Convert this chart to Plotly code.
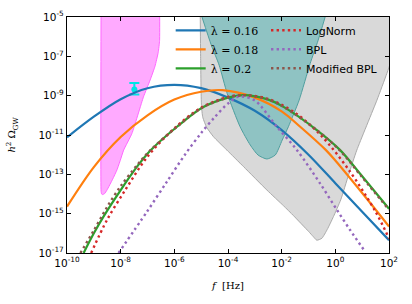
import numpy as np
import plotly.graph_objects as go

# ---- data (log10 f, log10 h^2 Omega) ----
blue_lf = [-10.0, -9.0, -8.0, -7.0, -6.0, -5.0, -4.0, -3.0, -2.0, -1.0, 0.0, 1.0, 2.0]
blue_lo = [-11.12, -10.07, -9.18, -8.62, -8.45, -8.62, -9.1, -9.77, -10.75, -12.0, -13.45, -14.9, -16.35]

orange_lf = [-10.0, -9.0, -8.0, -7.0, -6.0, -5.0, -4.2, -3.0, -2.0, -1.31, -0.35, 0.0, 1.0, 2.0]
orange_lo = [-14.64, -12.63, -11.1, -10.0, -9.2, -8.8, -8.72, -9.1, -9.8, -10.58, -11.77, -12.3, -13.95, -15.65]

green_lf = [-9.38, -9.0, -8.64, -8.0, -7.39, -6.9, -5.9, -4.95, -4.0, -3.42, -2.5, -1.93, -0.69, 0.18, 1.0, 2.0]
green_lo = [-17.0, -16.0, -15.15, -13.8, -12.61, -11.8, -10.58, -9.6, -9.1, -8.97, -9.2, -9.57, -10.75, -11.77, -13.1, -14.75]

lognorm_lf = [-9.1, -8.51, -7.83, -7.0, -6.0, -5.0, -4.0, -3.4, -2.5, -1.5, -0.5, 0.5, 1.5, 2.0]
lognorm_lo = [-17.0, -15.32, -13.8, -12.1, -10.66, -9.61, -9.06, -8.97, -9.17, -9.87, -11.07, -12.77, -14.9, -16.26]

bpl_lf = [-8.08, -7.02, -6.28, -5.59, -5.0, -4.5, -4.0, -3.6, -3.0, -2.18, -1.43, -0.57, 0.06, 0.55, 1.11]
bpl_lo = [-17.0, -14.9, -13.38, -11.97, -10.9, -10.1, -9.4, -9.05, -9.25, -10.58, -11.77, -13.46, -14.81, -15.83, -16.93]

mbpl_lf = [-9.5, -9.0, -8.5, -8.0, -7.4, -6.9, -5.9, -4.95, -4.0, -3.42, -2.5, -1.93, -0.69, 0.18, 1.0, 2.0]
mbpl_lo = [-17.0, -15.85, -14.65, -13.6, -12.55, -11.78, -10.58, -9.6, -9.1, -8.97, -9.2, -9.57, -10.75, -11.8, -13.15, -14.8]

# sensitivity regions
pink_lf = [-8.73, -8.73, -8.71, -8.67, -8.6, -8.51, -8.3, -8.14, -8.01, -7.89, -7.58, -7.15, -6.9, -6.72, -6.6, -6.55, -6.55]
pink_lo = [-4.0, -13.85, -14.0, -14.03, -13.98, -13.8, -13.25, -12.78, -12.27, -11.77, -10.92, -9.06, -8.2, -7.5, -6.8, -6.2, -4.0]

gray_lf = [-5.04, -5.02, -4.99, -4.94, -4.8, -4.54, -4.04, -3.42, -2.55, -1.93, -1.56, -1.0, -0.82, -0.69, -0.5,
           -0.3, -0.07, 0.2, 0.5, 0.8, 1.55, 1.92, 2.4, 2.9, 2.9]
gray_lo = [-4.0, -7.0, -9.5, -10.1, -10.6, -11.09, -11.77, -12.61, -13.8, -14.6, -15.1, -15.9, -16.17, -16.35, -16.25,
           -15.8, -15.15, -14.3, -13.0, -11.77, -9.23, -7.87, -6.0, -4.2, -4.0]

teal_lf = [-4.97, -4.62, -4.33, -4.03, -3.55, -3.17, -2.88, -2.55, -2.24, -1.98, -1.75, -1.35, -0.94, -0.64, -0.38]
teal_lo = [-5.0, -6.44, -7.45, -8.89, -10.58, -11.51, -12.02, -12.22, -12.02, -11.26, -10.58, -9.23, -7.37, -6.18, -5.0]

pt_lf = [-7.49]
pt_lo = [-8.69]
pt_err_plus = [0.34]
pt_err_minus = [0.25]

x_tick_exps = [-10, -8, -6, -4, -2, 0, 2]
y_tick_exps = [-5, -7, -9, -11, -13, -15, -17]


def p10(a):
    return [10 ** v for v in a]


def pow_label(e):
    return "10<sup>%d</sup>" % e


fig = go.Figure()

fig.add_trace(go.Scatter(x=p10(gray_lf), y=p10(gray_lo), fill="toself", mode="lines",
                         line=dict(color="#aaaaaa", width=1, shape="spline", smoothing=0.5),
                         fillcolor="#d9d9d9", showlegend=False, hoverinfo="skip"))
fig.add_trace(go.Scatter(x=p10(teal_lf), y=p10(teal_lo), fill="toself", mode="lines",
                         line=dict(color="#4f9f9f", width=1, shape="spline", smoothing=0.6),
                         fillcolor="#8fc3c3", showlegend=False, hoverinfo="skip"))
fig.add_trace(go.Scatter(x=p10(pink_lf), y=p10(pink_lo), fill="toself", mode="lines",
                         line=dict(color="#ff66ff", width=1, shape="spline", smoothing=0.4),
                         fillcolor="#ffaaff", showlegend=False, hoverinfo="skip"))

fig.add_trace(go.Scatter(x=p10(pt_lf), y=p10(pt_lo), mode="markers",
                         marker=dict(color="#00e5e5", size=6),
                         error_y=dict(type="data", symmetric=False,
                                      array=[10 ** (pt_lo[0] + pt_err_plus[0]) - 10 ** pt_lo[0]],
                                      arrayminus=[10 ** pt_lo[0] - 10 ** (pt_lo[0] - pt_err_minus[0])],
                                      color="#00e5e5", thickness=2, width=5),
                         showlegend=False, hoverinfo="skip"))

lam_font = dict(family="DejaVu Serif", size=11, color="black")
for lf, lo, col, name in [(blue_lf, blue_lo, "#1f77b4", "λ = 0.16"),
                          (orange_lf, orange_lo, "#ff7f0e", "λ = 0.18"),
                          (green_lf, green_lo, "#2ca02c", "λ = 0.2")]:
    fig.add_trace(go.Scatter(x=p10(lf), y=p10(lo), mode="lines", name=name,
                             line=dict(color=col, width=2.2, shape="spline", smoothing=0.9),
                             legend="legend"))

for lf, lo, col, name in [(lognorm_lf, lognorm_lo, "#d62728", "LogNorm"),
                          (bpl_lf, bpl_lo, "#9467bd", "BPL"),
                          (mbpl_lf, mbpl_lo, "#8c564b", "Modified BPL")]:
    fig.add_trace(go.Scatter(x=p10(lf), y=p10(lo), mode="lines", name=name,
                             line=dict(color=col, width=2.4, dash="2.4px,3.2px", shape="spline", smoothing=0.9),
                             legend="legend2"))

axis_common = dict(type="log", showline=True, linecolor="black", linewidth=1.2, mirror="ticks",
                   ticks="inside", ticklen=4, tickwidth=1.2, tickcolor="black", showgrid=False,
                   zeroline=False, automargin=False,
                   tickfont=dict(family="DejaVu Sans", size=10.5, color="black"))

fig.update_xaxes(**axis_common, range=[-10, 2],
                 tickvals=[10 ** e for e in x_tick_exps],
                 ticktext=[pow_label(e) for e in x_tick_exps],
                 title=dict(text="<i>f</i>  [Hz]", font=dict(family="DejaVu Serif", size=10, color="black"),
                            standoff=14))
fig.update_yaxes(**axis_common, range=[-17, -5],
                 tickvals=[10 ** e for e in y_tick_exps],
                 ticktext=[pow_label(e) for e in y_tick_exps],
                 title=dict(text="<i>h</i><sup>2</sup> Ω<sub>GW</sub>",
                            font=dict(family="DejaVu Serif", size=10, color="black"), standoff=20))

fig.update_layout(
    width=412, height=304,
    margin=dict(l=67, r=23, t=17, b=51),
    paper_bgcolor="white", plot_bgcolor="white",
    legend=dict(x=0.322, y=1.005, xanchor="left", yanchor="top", bgcolor="rgba(0,0,0,0)",
                font=lam_font, tracegroupgap=0, itemwidth=30),
    legend2=dict(x=0.618, y=1.005, xanchor="left", yanchor="top", bgcolor="rgba(0,0,0,0)",
                 font=dict(family="DejaVu Sans", size=11, color="black"), itemwidth=30),
)

fig.write_html("out.html", config={"displayModeBar": False},
               post_script="document.body.style.margin='0px';")
